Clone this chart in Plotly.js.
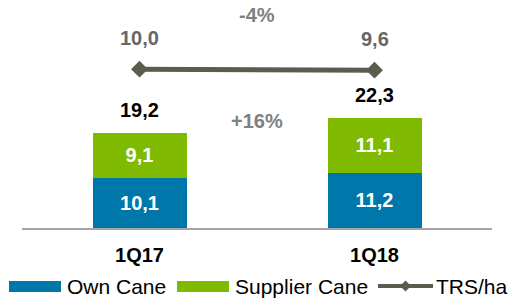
<!DOCTYPE html>
<html>
<head>
<meta charset="utf-8">
<script src="https://cdn.plot.ly/plotly-3.0.1.min.js"></script>
<style>html,body{margin:0;padding:0;background:#fff;}#chart{width:512px;height:299px;}</style>
</head>
<body>
<div id="chart"></div>
<script>
const categories = ['1Q17', '1Q18'];
const ownCane = [10.1, 11.2];
const supplierCane = [9.1, 11.1];
const totals = [19.2, 22.3];
const trsHa = [10.0, 9.6];
const trsChange = '-4%';
const totalChange = '+16%';
const seriesNames = ['Own Cane', 'Supplier Cane', 'TRS/ha'];
const seriesColors = ['#0077AA', '#7FBA00', '#5A5C4C'];

const FONT = 'Liberation Sans, Arial, sans-serif';
const fmt = v => v.toFixed(1).replace('.', ',');

const traces = [
  {type: 'bar', name: seriesNames[0], x: categories, y: ownCane,
   marker: {color: seriesColors[0]}, text: ownCane.map(fmt), textposition: 'inside',
   insidetextanchor: 'middle', constraintext: 'none',
   textfont: {family: FONT, size: 20, color: '#ffffff', weight: 'bold'}, hoverinfo: 'skip'},
  {type: 'bar', name: seriesNames[1], x: categories, y: supplierCane,
   marker: {color: seriesColors[1]}, text: supplierCane.map(fmt), textposition: 'inside',
   insidetextanchor: 'middle', constraintext: 'none',
   textfont: {family: FONT, size: 20, color: '#ffffff', weight: 'bold'}, hoverinfo: 'skip'},
  {type: 'scatter', mode: 'lines+markers', name: seriesNames[2], x: categories, y: trsHa, yaxis: 'y2',
   line: {color: seriesColors[2], width: 5}, marker: {symbol: 'diamond', size: 13, color: seriesColors[2]}, hoverinfo: 'skip'}
];

const annotations = [];
categories.forEach((c, i) => {
  annotations.push({x: c, y: totals[i], xref: 'x', yref: 'y', text: '<b>' + fmt(totals[i]) + '</b>',
    showarrow: false, yanchor: 'middle', yshift: 23, font: {family: FONT, size: 20, color: '#000000'}});
  annotations.push({x: c, y: trsHa[i], xref: 'x', yref: 'y2', text: '<b>' + fmt(trsHa[i]) + '</b>',
    showarrow: false, yanchor: 'middle', yshift: 31, font: {family: FONT, size: 20, color: '#666666'}});
});
annotations.push({x: 0.5, y: 0.977, xref: 'x', yref: 'paper', text: '<b>' + trsChange + '</b>',
  showarrow: false, yanchor: 'middle', font: {family: FONT, size: 20, color: '#808080'}});
annotations.push({x: 0.5, y: 0.491, xref: 'x', yref: 'paper', text: '<b>' + totalChange + '</b>',
  showarrow: false, yanchor: 'middle', font: {family: FONT, size: 20, color: '#808080'}});

// custom legend (paper coordinates; plot area spans 22..492 px horizontally, 10..228 px vertically)
const PL = 22, PW = 470, PB = 228, PH = 218;
const px = v => (v - PL) / PW;
const py = v => (PB - v) / PH;
const legY = 286;
const shapes = [
  {type: 'rect', xref: 'paper', yref: 'paper', x0: px(9), x1: px(61), y0: py(292), y1: py(281),
   fillcolor: seriesColors[0], line: {width: 0}},
  {type: 'rect', xref: 'paper', yref: 'paper', x0: px(177), x1: px(229), y0: py(292), y1: py(281),
   fillcolor: seriesColors[1], line: {width: 0}},
  {type: 'line', xref: 'paper', yref: 'paper', x0: px(378), x1: px(433), y0: py(legY), y1: py(legY),
   line: {color: seriesColors[2], width: 4}},
  {type: 'path', xref: 'paper', yref: 'paper',
   path: 'M' + px(400) + ',' + py(legY) + ' L' + px(405.5) + ',' + py(legY - 5.5) + ' L' + px(411) + ',' + py(legY) +
         ' L' + px(405.5) + ',' + py(legY + 5.5) + ' Z',
   fillcolor: seriesColors[2], line: {width: 0}}
];
[[66, 0], [234, 1], [435, 2]].forEach(([x, i]) => {
  annotations.push({x: px(x), y: py(legY), xref: 'paper', yref: 'paper', xanchor: 'left', yanchor: 'middle',
    text: seriesNames[i], showarrow: false, font: {family: FONT, size: 21, color: '#000000'}, borderpad: 0});
});

const layout = {
  width: 512, height: 299,
  margin: {l: 22, r: 20, t: 10, b: 71},
  paper_bgcolor: '#ffffff', plot_bgcolor: '#ffffff',
  barmode: 'stack', bargap: 0.6,
  font: {family: FONT, size: 20, color: '#000000'},
  xaxis: {type: 'category', range: [-0.5, 1.5], showline: true, linecolor: '#A6A6A6', linewidth: 1.5,
    showgrid: false, zeroline: false, ticks: '', ticklabelstandoff: 8,
    tickfont: {family: FONT, size: 20, color: '#000000', weight: 'bold'}},
  yaxis: {range: [0, 44], visible: false, showgrid: false, zeroline: false},
  yaxis2: {range: [-53.4, 33.6], overlaying: 'y', visible: false, showgrid: false, zeroline: false},
  showlegend: false,
  shapes: shapes,
  annotations: annotations
};

Plotly.newPlot('chart', traces, layout, {displayModeBar: false, staticPlot: true});
</script>
</body>
</html>
